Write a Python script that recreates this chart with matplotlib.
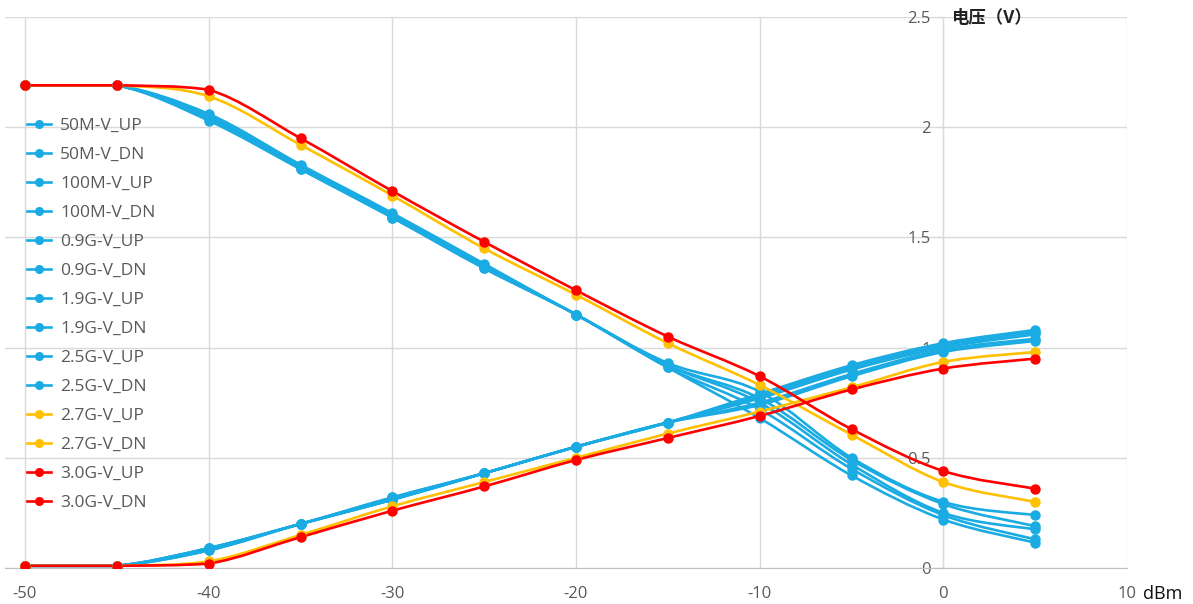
import matplotlib.pyplot as plt
from matplotlib.path import Path
from matplotlib.patches import PathPatch
from matplotlib.lines import Line2D

plt.rcParams['font.family'] = ['Open Sans', 'Noto Sans CJK SC', 'DejaVu Sans']
plt.rcParams['axes.unicode_minus'] = False

# input power (dBm)
dbm = [-50, -45, -40, -35, -30, -25, -20, -15, -10, -5, 0, 5]

# output voltage (V)
v_50m_up = [0.01, 0.01, 0.09, 0.20, 0.32, 0.43, 0.55, 0.66, 0.79, 0.92, 1.02, 1.08]
v_50m_dn = [2.19, 2.19, 2.06, 1.83, 1.61, 1.38, 1.15, 0.93, 0.80, 0.50, 0.30, 0.24]
v_100m_up = [0.01, 0.01, 0.09, 0.20, 0.32, 0.43, 0.55, 0.66, 0.78, 0.91, 1.01, 1.07]
v_100m_dn = [2.19, 2.19, 2.05, 1.82, 1.60, 1.37, 1.15, 0.92, 0.77, 0.49, 0.29, 0.19]
v_09g_up = [0.01, 0.01, 0.09, 0.20, 0.31, 0.43, 0.55, 0.66, 0.77, 0.90, 1.00, 1.06]
v_09g_dn = [2.19, 2.19, 2.04, 1.82, 1.60, 1.37, 1.15, 0.92, 0.75, 0.47, 0.25, 0.175]
v_19g_up = [0.01, 0.01, 0.08, 0.20, 0.31, 0.43, 0.55, 0.66, 0.75, 0.88, 0.99, 1.04]
v_19g_dn = [2.19, 2.19, 2.04, 1.81, 1.59, 1.36, 1.15, 0.91, 0.72, 0.45, 0.24, 0.13]
v_25g_up = [0.01, 0.01, 0.08, 0.20, 0.31, 0.43, 0.55, 0.66, 0.74, 0.87, 0.98, 1.03]
v_25g_dn = [2.19, 2.19, 2.03, 1.81, 1.59, 1.36, 1.15, 0.91, 0.68, 0.42, 0.22, 0.115]
v_27g_up = [0.01, 0.01, 0.03, 0.15, 0.28, 0.39, 0.50, 0.61, 0.71, 0.82, 0.935, 0.98]
v_27g_dn = [2.19, 2.19, 2.14, 1.92, 1.69, 1.45, 1.24, 1.02, 0.83, 0.605, 0.39, 0.30]
v_30g_up = [0.01, 0.01, 0.02, 0.14, 0.26, 0.37, 0.49, 0.59, 0.69, 0.81, 0.905, 0.95]
v_30g_dn = [2.19, 2.19, 2.17, 1.95, 1.71, 1.48, 1.26, 1.05, 0.87, 0.63, 0.44, 0.36]

labels = ['50M-V_UP', '50M-V_DN', '100M-V_UP', '100M-V_DN', '0.9G-V_UP', '0.9G-V_DN',
          '1.9G-V_UP', '1.9G-V_DN', '2.5G-V_UP', '2.5G-V_DN', '2.7G-V_UP', '2.7G-V_DN',
          '3.0G-V_UP', '3.0G-V_DN']
series = [v_50m_up, v_50m_dn, v_100m_up, v_100m_dn, v_09g_up, v_09g_dn,
          v_19g_up, v_19g_dn, v_25g_up, v_25g_dn, v_27g_up, v_27g_dn,
          v_30g_up, v_30g_dn]

blue = '#1AABE3'
orange = '#FFC000'
red = '#FF0000'
colors = [blue] * 10 + [orange] * 2 + [red] * 2


def smooth_path(xs, ys):
    # excel style smoothed line: cubic bezier through the points,
    # control points kept inside each segment's y range (no overshoot)
    pts = list(zip(xs, ys))
    n = len(pts)
    verts = [pts[0]]
    codes = [Path.MOVETO]
    for i in range(n - 1):
        p0 = pts[i - 1] if i > 0 else pts[i]
        p1 = pts[i]
        p2 = pts[i + 1]
        p3 = pts[i + 2] if i + 2 < n else pts[i + 1]
        lo, hi = min(p1[1], p2[1]), max(p1[1], p2[1])
        c1y = min(max(p1[1] + (p2[1] - p0[1]) / 6, lo), hi)
        c2y = min(max(p2[1] - (p3[1] - p1[1]) / 6, lo), hi)
        c1 = (p1[0] + (p2[0] - p0[0]) / 6, c1y)
        c2 = (p2[0] - (p3[0] - p1[0]) / 6, c2y)
        verts += [c1, c2, p2]
        codes += [Path.CURVE4] * 3
    return Path(verts, codes)


W, H = 1193, 604
fig = plt.figure(figsize=(W / 100, H / 100), dpi=100)
ax = fig.add_axes([5 / W, 1 - 568 / H, (1127 - 5) / W, (568 - 17) / H])

for vals, c in zip(series, colors):
    ax.add_patch(PathPatch(smooth_path(dbm, vals), fill=False, edgecolor=c, lw=1.9,
                           capstyle='round', joinstyle='round', zorder=3))
    ax.plot(dbm, vals, linestyle='none', marker='o', ms=6.5, color=c, zorder=4)

ax.set_xlim(-51.09, 10)
ax.set_ylim(0, 2.5)
ax.set_xticks(range(-50, 11, 10))
ax.set_yticks([0, 0.5, 1, 1.5, 2, 2.5])
ax.set_yticklabels(['0', '0.5', '1', '1.5', '2', '2.5'])
ax.grid(True, color='#d9d9d9', lw=1)
ax.set_axisbelow(True)

ax.spines['top'].set_visible(False)
ax.spines['right'].set_visible(False)
ax.spines['left'].set_position(('data', 0))
ax.spines['left'].set_color('#d9d9d9')
ax.spines['bottom'].set_color('#bfbfbf')
ax.tick_params(axis='x', length=0, pad=13, labelsize=12, labelcolor='#595959')
ax.tick_params(axis='y', direction='out', length=4, width=1, color='#d9d9d9',
               pad=5, labelsize=12, labelcolor='#595959')

fig.text(951 / W, 1 - 18 / H, '电压（V）', fontsize=12.5, fontweight='bold',
         color='#222222', va='center', ha='left')
fig.text(1143 / W, 1 - 594 / H, 'dBm', fontsize=13, color='#111111', va='center', ha='left')

handles = [Line2D([], [], color=c, lw=1.9, marker='o', ms=5.5) for c in colors]
ax.legend(handles, labels, loc='upper left', bbox_to_anchor=(27 / W, 1 - 118 / H),
          bbox_transform=fig.transFigure, frameon=False, fontsize=12.5, labelcolor='#595959',
          handlelength=1.4, handletextpad=0.5, labelspacing=0.74, borderpad=0,
          borderaxespad=0)

plt.savefig('out.png', dpi=100)
